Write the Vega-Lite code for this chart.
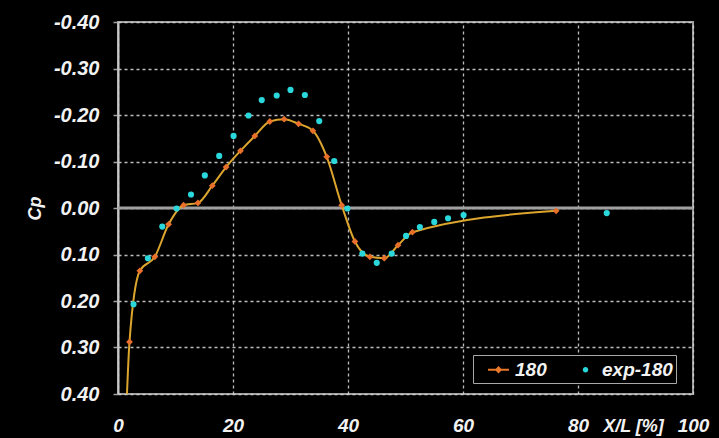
{
  "$schema": "https://vega.github.io/schema/vega-lite/v6.json",
  "width": 575,
  "height": 372,
  "autosize": {"type": "none"},
  "padding": {"left": 118, "top": 22, "right": 26, "bottom": 44},
  "background": "#000000",
  "config": {
    "view": {"stroke": "#a0a0a0", "strokeWidth": 2},
    "axis": {
      "labelFont": "Liberation Sans",
      "labelFontSize": 19,
      "labelFontWeight": "bold",
      "labelFontStyle": "italic",
      "labelColor": "#f2f2f2",
      "titleFont": "Liberation Sans",
      "titleFontSize": 18,
      "titleFontWeight": "bold",
      "titleFontStyle": "italic",
      "titleColor": "#f2f2f2",
      "gridColor": "#d0d0d0",
      "gridDash": [3, 3],
      "gridWidth": 1.3,
      "gridOpacity": 0.9
    }
  },
  "data": {
    "values": [
      {"x": 1.4, "cp": 0.45, "series": "180"},
      {"x": 2.0, "cp": 0.288, "series": "180"},
      {"x": 3.8, "cp": 0.135, "series": "180"},
      {"x": 6.4, "cp": 0.105, "series": "180"},
      {"x": 8.8, "cp": 0.035, "series": "180"},
      {"x": 11.4, "cp": -0.006, "series": "180"},
      {"x": 13.9, "cp": -0.011, "series": "180"},
      {"x": 16.4, "cp": -0.048, "series": "180"},
      {"x": 18.8, "cp": -0.088, "series": "180"},
      {"x": 21.3, "cp": -0.123, "series": "180"},
      {"x": 23.8, "cp": -0.155, "series": "180"},
      {"x": 26.4, "cp": -0.186, "series": "180"},
      {"x": 28.9, "cp": -0.191, "series": "180"},
      {"x": 31.4, "cp": -0.181, "series": "180"},
      {"x": 33.9, "cp": -0.166, "series": "180"},
      {"x": 36.3, "cp": -0.110, "series": "180"},
      {"x": 38.9, "cp": -0.006, "series": "180"},
      {"x": 41.2, "cp": 0.072, "series": "180"},
      {"x": 43.8, "cp": 0.105, "series": "180"},
      {"x": 46.3, "cp": 0.108, "series": "180"},
      {"x": 48.7, "cp": 0.080, "series": "180"},
      {"x": 51.2, "cp": 0.052, "series": "180"},
      {"x": 76.2, "cp": 0.006, "series": "180"},
      {"x": 2.7, "cp": 0.207, "series": "exp-180"},
      {"x": 5.2, "cp": 0.108, "series": "exp-180"},
      {"x": 7.7, "cp": 0.040, "series": "exp-180"},
      {"x": 10.2, "cp": 0.001, "series": "exp-180"},
      {"x": 12.7, "cp": -0.029, "series": "exp-180"},
      {"x": 15.1, "cp": -0.070, "series": "exp-180"},
      {"x": 17.6, "cp": -0.112, "series": "exp-180"},
      {"x": 20.1, "cp": -0.155, "series": "exp-180"},
      {"x": 22.7, "cp": -0.199, "series": "exp-180"},
      {"x": 25.0, "cp": -0.232, "series": "exp-180"},
      {"x": 27.6, "cp": -0.242, "series": "exp-180"},
      {"x": 30.0, "cp": -0.254, "series": "exp-180"},
      {"x": 32.5, "cp": -0.243, "series": "exp-180"},
      {"x": 35.0, "cp": -0.187, "series": "exp-180"},
      {"x": 37.6, "cp": -0.101, "series": "exp-180"},
      {"x": 39.9, "cp": 0.001, "series": "exp-180"},
      {"x": 42.5, "cp": 0.098, "series": "exp-180"},
      {"x": 45.0, "cp": 0.118, "series": "exp-180"},
      {"x": 47.6, "cp": 0.098, "series": "exp-180"},
      {"x": 50.1, "cp": 0.060, "series": "exp-180"},
      {"x": 52.5, "cp": 0.041, "series": "exp-180"},
      {"x": 55.0, "cp": 0.030, "series": "exp-180"},
      {"x": 57.4, "cp": 0.022, "series": "exp-180"},
      {"x": 60.1, "cp": 0.015, "series": "exp-180"},
      {"x": 85.0, "cp": 0.011, "series": "exp-180"}
    ]
  },
  "layer": [
    {
      "data": {"values": [{"ref": 0}]},
      "mark": {"type": "rule", "color": "#a0a0a0", "strokeWidth": 3},
      "encoding": {
        "y": {"field": "ref", "type": "quantitative"}
      }
    },
    {
      "transform": [{"filter": "datum.series === '180'"}],
      "mark": {"type": "line", "color": "#dca52e", "strokeWidth": 2, "interpolate": "monotone", "clip": true},
      "encoding": {
        "x": {
          "field": "x",
          "type": "quantitative",
          "scale": {"domain": [0, 100], "nice": false},
          "axis": {
            "values": [0, 20, 40, 60, 80, 100],
            "title": "X/L [%]",
            "titleX": 515,
            "titleY": 37,
            "titleBaseline": "alphabetic",
            "titleAlign": "center",
            "ticks": false,
            "tickSize": 0,
            "labelBaseline": "alphabetic",
            "labelPadding": 37,
            "labelFlush": false,
            "domain": false
          }
        },
        "y": {
          "field": "cp",
          "type": "quantitative",
          "scale": {"domain": [-0.4, 0.4], "nice": false, "zero": false, "reverse": true},
          "axis": {
            "values": [-0.4, -0.3, -0.2, -0.1, 0, 0.1, 0.2, 0.3, 0.4],
            "labelExpr": "replace(format(datum.value, '.2f'), '−', '-')",
            "title": "Cp",
            "titleX": -83,
            "titleY": 186,
            "titleAlign": "center",
            "titleBaseline": "middle",
            "titleAngle": -90,
            "tickSize": 5,
            "tickColor": "#a0a0a0",
            "tickWidth": 1.5,
            "labelPadding": 14,
            "labelFontSize": 20,
            "domainColor": "#c8c8c8",
            "domainWidth": 2
          }
        }
      }
    },
    {
      "transform": [{"filter": "datum.series === '180'"}],
      "mark": {"type": "point", "shape": "diamond", "filled": true, "opacity": 1, "size": 46, "color": "#e8702a", "clip": true},
      "encoding": {
        "x": {"field": "x", "type": "quantitative"},
        "y": {"field": "cp", "type": "quantitative"}
      }
    },
    {
      "transform": [{"filter": "datum.series === 'exp-180'"}],
      "mark": {"type": "circle", "opacity": 1, "size": 38, "color": "#2ad8dc", "clip": true},
      "encoding": {
        "x": {"field": "x", "type": "quantitative"},
        "y": {"field": "cp", "type": "quantitative"}
      }
    },
    {
      "mark": {"type": "point", "filled": true, "opacity": 1, "size": 0, "clip": true},
      "encoding": {
        "x": {"field": "x", "type": "quantitative"},
        "y": {"field": "cp", "type": "quantitative"},
        "shape": {
          "field": "series",
          "scale": {
            "domain": ["180", "exp-180"],
            "range": ["M-1,-0.09L1,-0.09L1,0.09L-1,0.09Z M-0.35,0L0,-0.35L0.35,0L0,0.35Z", "M0.26,0A0.26,0.26,0,1,1,-0.26,0A0.26,0.26,0,1,1,0.26,0Z"]
          },
          "legend": null
        },
        "color": {
          "field": "series",
          "scale": {"domain": ["180", "exp-180"], "range": ["#e8782a", "#2ad8dc"]},
          "legend": {
            "title": null,
            "orient": "none",
            "legendX": 355,
            "legendY": 333,
            "direction": "horizontal",
            "fillColor": "#000000",
            "strokeColor": "#a8a8a8",
            "padding": 3,
            "symbolOffset": 11,
            "labelOffset": 5,
            "columnPadding": 16,
            "labelExpr": "datum.label === 'exp-180' ? 'exp-180\u00a0\u00a0' : datum.label",
            "labelFont": "Liberation Sans",
            "labelFontSize": 19,
            "labelFontWeight": "bold",
            "labelFontStyle": "italic",
            "labelColor": "#f2f2f2",
            "symbolSize": 440,
            "symbolOpacity": 1
          }
        }
      }
    }
  ]
}
